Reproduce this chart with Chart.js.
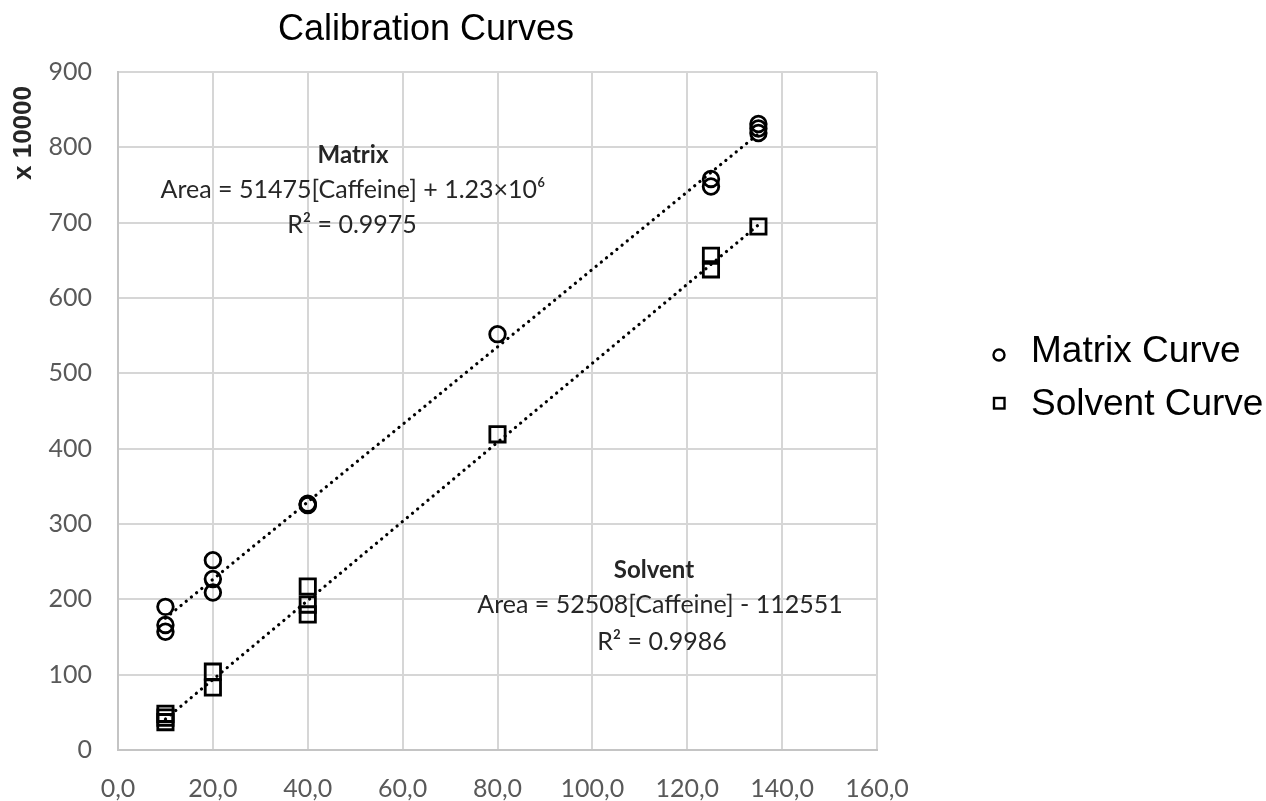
<!DOCTYPE html>
<html>
<head>
<meta charset="utf-8">
<script src="https://cdn.jsdelivr.net/npm/chart.js@4.4.1/dist/chart.umd.min.js"></script>
<style>
  html, body { margin: 0; padding: 0; background: #ffffff; }
  #wrap { width: 1266px; height: 801px; }
</style>
</head>
<body>
<div id="wrap"><canvas id="c" width="1266" height="801"></canvas></div>
<script>
// ---- Data ----
const matrixConc  = [10, 10, 10, 20, 20, 20, 40, 40, 40, 80, 125, 125, 135, 135, 135];
const matrixArea  = [190, 166, 157, 252, 227, 209, 327, 326, 325, 552, 758, 748, 831, 825, 819];
const solventConc = [10, 10, 10, 20, 20, 40, 40, 40, 80, 125, 125, 135];
const solventArea = [48, 43, 37, 104, 83, 217, 193, 180, 419, 656, 638, 695];
// trendline endpoints (as drawn)
const matrixTrendX  = [10, 135];
const matrixTrendY  = [175, 818];
const solventTrendX = [10, 135];
const solventTrendY = [41, 697];
const xTickLabels = ['0,0', '20,0', '40,0', '60,0', '80,0', '100,0', '120,0', '140,0', '160,0'];
const yTickLabels = ['0', '100', '200', '300', '400', '500', '600', '700', '800', '900'];
const chartTitle = 'Calibration Curves';
const yTitle = 'x 10000';
const seriesNames = ['Matrix Curve', 'Solvent Curve'];
const matrixNote  = ['Matrix', 'Area = 51475[Caffeine] + 1.23×10⁶', 'R² = 0.9975'];
const solventNote = ['Solvent', 'Area = 52508[Caffeine] - 112551', 'R² = 0.9986'];

const pts = (xs, ys) => xs.map((x, i) => ({ x: x, y: ys[i] }));

const extras = {
  id: 'extras',
  afterDraw(chart) {
    const ctx = chart.ctx;
    ctx.save();
    // title
    ctx.fillStyle = '#000000';
    ctx.font = '36px "Liberation Sans", Arial, sans-serif';
    ctx.textAlign = 'center';
    ctx.textBaseline = 'alphabetic';
    ctx.fillText(chartTitle, 426, 40);

    // y axis title (rotated)
    ctx.save();
    ctx.translate(31, 133);
    ctx.rotate(-Math.PI / 2);
    ctx.font = 'bold 26px "Liberation Sans", Arial, sans-serif';
    ctx.fillStyle = '#262626';
    ctx.textAlign = 'center';
    ctx.fillText(yTitle, 0, 0);
    ctx.restore();

    // annotations
    ctx.fillStyle = '#262626';
    ctx.textAlign = 'center';
    ctx.font = 'bold 24px Lato, "Open Sans", sans-serif';
    ctx.fillText(matrixNote[0], 353, 163);
    ctx.font = '25px Lato, "Open Sans", sans-serif';
    ctx.fillText(matrixNote[1], 353, 198);
    ctx.fillText(matrixNote[2], 352, 233);
    ctx.font = 'bold 24px Lato, "Open Sans", sans-serif';
    ctx.fillText(solventNote[0], 654, 578);
    ctx.font = '25px Lato, "Open Sans", sans-serif';
    ctx.fillText(solventNote[1], 660, 613);
    ctx.fillText(solventNote[2], 662, 650);

    // legend
    ctx.strokeStyle = '#000000';
    ctx.lineWidth = 2.4;
    ctx.beginPath();
    ctx.arc(999, 355, 5.5, 0, Math.PI * 2);
    ctx.stroke();
    ctx.strokeRect(994, 398, 10.5, 10.5);
    ctx.fillStyle = '#000000';
    ctx.textAlign = 'left';
    ctx.font = '37px "Liberation Sans", Arial, sans-serif';
    ctx.fillText(seriesNames[0], 1031, 362);
    ctx.fillText(seriesNames[1], 1031, 415);
    ctx.restore();
  }
};

new Chart(document.getElementById('c'), {
  type: 'scatter',
  data: {
    datasets: [
      {
        label: 'Matrix trend',
        data: pts(matrixTrendX, matrixTrendY),
        showLine: true,
        borderColor: '#000000',
        borderWidth: 3.2,
        borderDash: [0.1, 6.6],
        borderCapStyle: 'round',
        pointRadius: 0,
        fill: false
      },
      {
        label: 'Solvent trend',
        data: pts(solventTrendX, solventTrendY),
        showLine: true,
        borderColor: '#000000',
        borderWidth: 3.2,
        borderDash: [0.1, 6.6],
        borderCapStyle: 'round',
        pointRadius: 0,
        fill: false
      },
      {
        label: seriesNames[0],
        data: pts(matrixConc, matrixArea),
        pointStyle: 'circle',
        pointRadius: 7.8,
        pointBorderWidth: 2.8,
        pointBorderColor: '#000000',
        pointBackgroundColor: 'rgba(0,0,0,0)',
        showLine: false
      },
      {
        label: seriesNames[1],
        data: pts(solventConc, solventArea),
        pointStyle: 'rect',
        pointRadius: 10.8,
        pointBorderWidth: 2.8,
        pointBorderColor: '#000000',
        pointBackgroundColor: 'rgba(0,0,0,0)',
        showLine: false
      }
    ]
  },
  options: {
    responsive: false,
    animation: false,
    events: [],
    layout: { padding: { top: 72, right: 389, left: 0, bottom: 0 } },
    plugins: {
      legend: { display: false },
      title: { display: false },
      tooltip: { enabled: false }
    },
    scales: {
      x: {
        type: 'linear',
        min: 0, max: 160,
        afterFit: (s) => { s.height = 51; },
        grid: { color: '#d6d6d6', lineWidth: 2, drawTicks: false },
        border: { color: '#c4c4c4', width: 2 },
        ticks: {
          stepSize: 20,
          padding: 24,
          color: '#595959',
          font: { family: 'Lato, "Open Sans", sans-serif', size: 25 },
          callback: (v) => xTickLabels[Math.round(v / 20)]
        }
      },
      y: {
        type: 'linear',
        min: 0, max: 900,
        afterFit: (s) => { s.width = 118; },
        grid: { color: '#d6d6d6', lineWidth: 2, drawTicks: false },
        border: { color: '#c4c4c4', width: 2 },
        ticks: {
          stepSize: 100,
          padding: 26,
          color: '#595959',
          font: { family: 'Lato, "Open Sans", sans-serif', size: 25 },
          callback: (v) => yTickLabels[Math.round(v / 100)]
        }
      }
    }
  },
  plugins: [extras]
});
</script>
</body>
</html>
